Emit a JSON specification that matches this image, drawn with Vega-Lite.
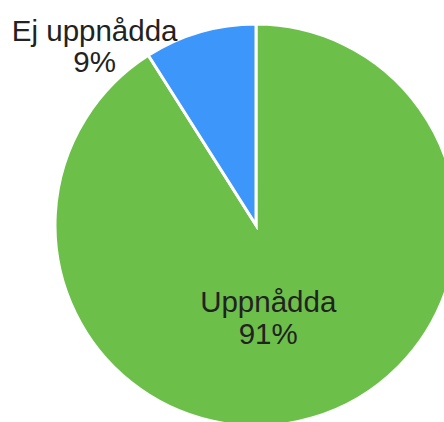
{
  "$schema": "https://vega.github.io/schema/vega-lite/v6.json",
  "width": 444,
  "height": 422,
  "autosize": "none",
  "padding": 0,
  "background": "white",
  "config": {"view": {"stroke": null}},
  "data": {"values": [
    {"category": "Uppnådda", "value": 91, "label": "Uppnådda\n91%"},
    {"category": "Ej uppnådda", "value": 9, "label": "Ej uppnådda\n9%"}
  ]},
  "encoding": {
    "theta": {"field": "value", "type": "quantitative", "stack": true},
    "order": {"field": "value", "sort": "descending"}
  },
  "layer": [
    {
      "mark": {"type": "arc", "x": 256, "y": 225, "outerRadius": 201, "stroke": "white", "strokeWidth": 3},
      "encoding": {
        "color": {"field": "category", "type": "nominal", "legend": null,
          "scale": {"domain": ["Uppnådda", "Ej uppnådda"], "range": ["#6cc04a", "#3d96f9"]}}
      }
    },
    {
      "mark": {"type": "text", "x": 256, "y": 225, "radius": 94, "dx": -14, "dy": -12, "lineBreak": "\n", "font": "Liberation Sans", "fontSize": 29.5, "lineHeight": 32, "fill": "#222222", "align": "center", "baseline": "middle"},
      "encoding": {
        "text": {"condition": {"test": "datum.category === 'Uppnådda'", "field": "label"}, "value": ""}
      }
    },
    {
      "mark": {"type": "text", "x": 256, "y": 225, "radius": 184, "dx": -110, "dy": -16, "lineBreak": "\n", "font": "Liberation Sans", "fontSize": 29.5, "lineHeight": 31, "fill": "#222222", "align": "center", "baseline": "middle"},
      "encoding": {
        "text": {"condition": {"test": "datum.category === 'Ej uppnådda'", "field": "label"}, "value": ""}
      }
    }
  ]
}
